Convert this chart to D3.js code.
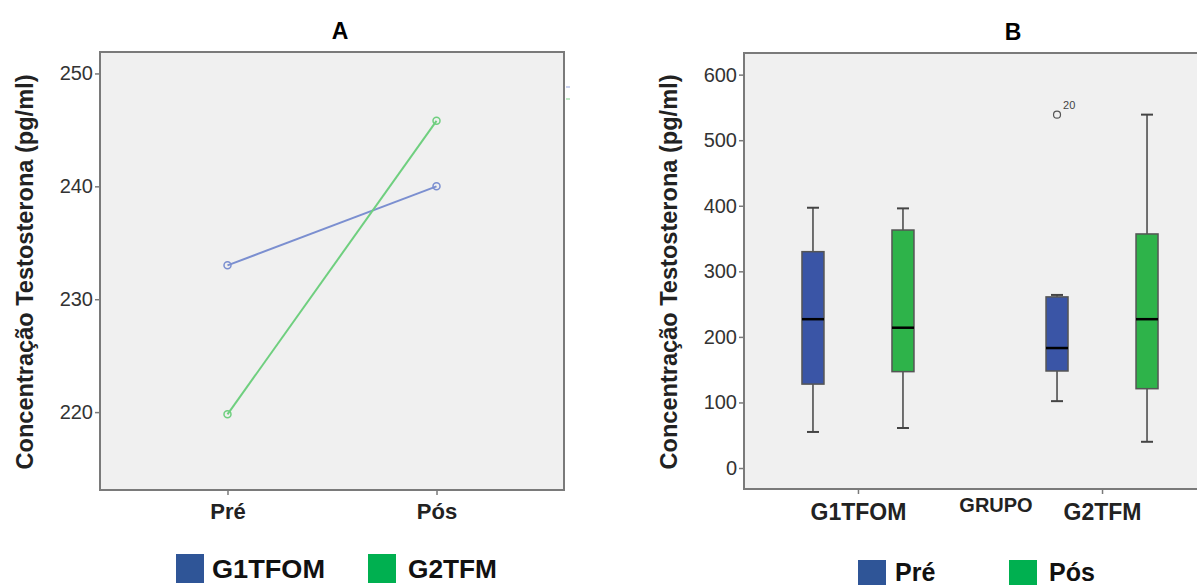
<!DOCTYPE html>
<html>
<head>
<meta charset="utf-8">
<script src="https://cdn.jsdelivr.net/npm/d3@7"></script>
<style>
  body { margin: 0; background: #fff; }
  svg text { font-family: "Liberation Sans", Arial, sans-serif; }
</style>
</head>
<body>
<div id="plotspace"></div>
<script>
// panel A: mean testosterone, Pré / Pós by group
var moments = ["Pré", "Pós"];
var groupsA = ["G1TFOM", "G2TFM"];
var meanG1 = [233.0, 240.0];
var meanG2 = [219.8, 245.8];
var ticksA = [220, 230, 240, 250];

// panel B: box plots per group and moment
var groupsB = ["G1TFOM", "G2TFM"];
var boxMin = [[55, 61], [102, 40]];
var boxQ1 = [[128, 147], [148, 121]];
var boxMed = [[227, 214], [183, 227]];
var boxQ3 = [[330, 363], [261, 357]];
var boxMax = [[397, 396], [264, 539]];
var outliers = [{ g: 1, m: 0, v: 539, label: "20" }];
var ticksB = [0, 100, 200, 300, 400, 500, 600];

var blue = "#2f5597", green = "#00b050";
var boxBlue = "#3a55a6", boxGreen = "#2eb34a";
var lineBlue = "#7b8fd0", lineGreen = "#6fcf7f";
var titleText = "Concentração Testosterona (pg/ml)";

var svg = d3.select("#plotspace").append("svg")
    .attr("width", 1197).attr("height", 585);

var styleAxis = function(g) {
    g.select(".domain").remove();
    g.selectAll("line").attr("stroke", "#7a7a7a").attr("stroke-width", 1.5);
};

// ---------- panel A ----------
var ax = d3.scalePoint().domain(moments).range([100, 564]).padding(0.61);
var ay = d3.scaleLinear().domain([213.1, 251.9]).range([490, 52]);

svg.append("rect").attr("x", 100).attr("y", 52).attr("width", 464).attr("height", 438)
    .attr("fill", "#f0f0f0").attr("stroke", "#7a7a7a").attr("stroke-width", 2);

var gAy = svg.append("g").attr("transform", "translate(100,0)")
    .call(d3.axisLeft(ay).tickValues(ticksA).tickSize(5).tickPadding(2));
var gAx = svg.append("g").attr("transform", "translate(0,490)")
    .call(d3.axisBottom(ax).tickSize(5).tickPadding(8));
styleAxis(gAy);
styleAxis(gAx);
gAy.selectAll("text").attr("font-size", 20).attr("fill", "#333");
gAx.selectAll("text").attr("font-size", 22).attr("font-weight", "bold").attr("fill", "#222")
    .attr("dy", null).attr("y", 29);

var line = d3.line().x(function(d, i) { return ax(moments[i]); }).y(function(d) { return ay(d); });
[[meanG1, lineBlue], [meanG2, lineGreen]].forEach(function(s) {
    svg.append("path").attr("d", line(s[0])).attr("fill", "none")
        .attr("stroke", s[1]).attr("stroke-width", 2);
    svg.selectAll(null).data(s[0]).enter().append("circle")
        .attr("cx", function(d, i) { return ax(moments[i]); })
        .attr("cy", function(d) { return ay(d); })
        .attr("r", 3.5).attr("fill", "none").attr("stroke", s[1]).attr("stroke-width", 1.5);
});

// tiny leftover legend marks at the right edge
svg.append("line").attr("x1", 566).attr("x2", 570).attr("y1", 87).attr("y2", 87).attr("stroke", "#b8c3ea").attr("stroke-width", 1.5);
svg.append("line").attr("x1", 566).attr("x2", 570).attr("y1", 99).attr("y2", 99).attr("stroke", "#a8e0b0").attr("stroke-width", 1.5);

svg.append("text").attr("x", 340).attr("y", 39).attr("text-anchor", "middle")
    .attr("font-size", 23).attr("font-weight", "bold").text("A");
svg.append("text").attr("transform", "translate(33,272) rotate(-90)").attr("text-anchor", "middle")
    .attr("font-size", 23).attr("font-weight", "bold").attr("fill", "#222")
    .attr("textLength", 395).attr("lengthAdjust", "spacingAndGlyphs")
    .text(titleText);

var legA = svg.append("g");
legA.selectAll("rect").data(groupsA).enter().append("rect")
    .attr("x", function(d, i) { return [176, 368][i]; }).attr("y", 554)
    .attr("width", 28).attr("height", 29)
    .attr("fill", function(d, i) { return [blue, green][i]; });
legA.selectAll("text").data(groupsA).enter().append("text")
    .attr("x", function(d, i) { return [212, 408][i]; }).attr("y", 578)
    .attr("font-size", 26).attr("font-weight", "bold").attr("fill", "#111")
    .attr("textLength", function(d, i) { return [113, 89][i]; }).attr("lengthAdjust", "spacingAndGlyphs")
    .text(function(d) { return d; });

// ---------- panel B ----------
var bx = d3.scalePoint().domain(groupsB).range([744, 1216]).padding(0.467);
var sub = d3.scalePoint().domain(moments).range([-45, 45]);
var by = d3.scaleLinear().domain([-32, 633]).range([489, 53]);
var bw = 22;

svg.append("rect").attr("x", 744).attr("y", 53).attr("width", 480).attr("height", 436)
    .attr("fill", "#f0f0f0").attr("stroke", "#7a7a7a").attr("stroke-width", 2);

var gBy = svg.append("g").attr("transform", "translate(744,0)")
    .call(d3.axisLeft(by).tickValues(ticksB).tickSize(5).tickPadding(2));
var gBx = svg.append("g").attr("transform", "translate(0,489)")
    .call(d3.axisBottom(bx).tickSize(5).tickPadding(8));
styleAxis(gBy);
styleAxis(gBx);
gBy.selectAll("text").attr("font-size", 20).attr("fill", "#333");
gBx.selectAll("text").attr("font-size", 23).attr("font-weight", "bold").attr("fill", "#222")
    .attr("dy", null).attr("y", 31);

var boxes = [];
groupsB.forEach(function(g, gi) {
    moments.forEach(function(m, mi) {
        boxes.push({ g: g, m: m, min: boxMin[gi][mi], q1: boxQ1[gi][mi], med: boxMed[gi][mi],
            q3: boxQ3[gi][mi], max: boxMax[gi][mi], fill: mi === 0 ? boxBlue : boxGreen });
    });
});
var cx = function(d) { return bx(d.g) + sub(d.m); };

var bg = svg.selectAll("g.box").data(boxes).enter().append("g").attr("class", "box");
bg.append("line").attr("x1", cx).attr("x2", cx)
    .attr("y1", function(d) { return by(d.max); }).attr("y2", function(d) { return by(d.min); })
    .attr("stroke", "#444").attr("stroke-width", 1.5);
bg.selectAll("line.cap").data(function(d) { return [d, d]; }).enter().append("line").attr("class", "cap")
    .attr("x1", function(d) { return cx(d) - 6; }).attr("x2", function(d) { return cx(d) + 6; })
    .attr("y1", function(d, i) { return by(i ? d.min : d.max); })
    .attr("y2", function(d, i) { return by(i ? d.min : d.max); })
    .attr("stroke", "#444").attr("stroke-width", 2);
bg.append("rect").attr("x", function(d) { return cx(d) - bw / 2; })
    .attr("y", function(d) { return by(d.q3); }).attr("width", bw)
    .attr("height", function(d) { return by(d.q1) - by(d.q3); })
    .attr("fill", function(d) { return d.fill; }).attr("stroke", "#555").attr("stroke-width", 1.5);
bg.append("line").attr("x1", function(d) { return cx(d) - bw / 2; }).attr("x2", function(d) { return cx(d) + bw / 2; })
    .attr("y1", function(d) { return by(d.med); }).attr("y2", function(d) { return by(d.med); })
    .attr("stroke", "#000").attr("stroke-width", 2.5);

outliers.forEach(function(o) {
    var x = bx(groupsB[o.g]) + sub(moments[o.m]);
    svg.append("circle").attr("cx", x).attr("cy", by(o.v)).attr("r", 3.5)
        .attr("fill", "none").attr("stroke", "#555").attr("stroke-width", 1.2);
    svg.append("text").attr("x", x + 6).attr("y", by(o.v) - 6).attr("font-size", 11)
        .attr("fill", "#444").text(o.label);
});

svg.append("text").attr("x", 1013).attr("y", 40).attr("text-anchor", "middle")
    .attr("font-size", 23).attr("font-weight", "bold").text("B");
svg.append("text").attr("transform", "translate(677,272) rotate(-90)").attr("text-anchor", "middle")
    .attr("font-size", 23).attr("font-weight", "bold").attr("fill", "#222")
    .attr("textLength", 395).attr("lengthAdjust", "spacingAndGlyphs")
    .text(titleText);
svg.append("text").attr("x", 996).attr("y", 512).attr("text-anchor", "middle")
    .attr("font-size", 20).attr("font-weight", "bold").attr("fill", "#222").text("GRUPO");

var legB = svg.append("g");
legB.selectAll("rect").data(moments).enter().append("rect")
    .attr("x", function(d, i) { return [858, 1009][i]; }).attr("y", 560)
    .attr("width", 28).attr("height", 28)
    .attr("fill", function(d, i) { return [blue, green][i]; });
legB.selectAll("text").data(moments).enter().append("text")
    .attr("x", function(d, i) { return [895, 1049][i]; }).attr("y", 581)
    .attr("font-size", 25).attr("font-weight", "bold").attr("fill", "#111")
    .text(function(d) { return d; });
</script>
</body>
</html>
